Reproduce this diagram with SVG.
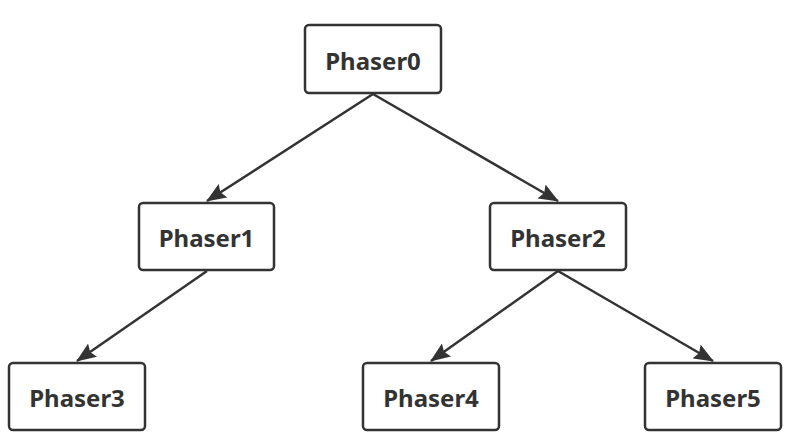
<svg xmlns="http://www.w3.org/2000/svg" width="794" height="448" viewBox="0 0 794 448">
<defs>
<style>
.node rect{fill:#fff;stroke:#333;stroke-width:2.5}
.node text{font-family:"Noto Sans","Open Sans","DejaVu Sans",sans-serif;font-weight:bold;font-size:24px;fill:#333;text-anchor:middle;dominant-baseline:central}
.edge{stroke:#333;stroke-width:2.5;fill:none;marker-end:url(#arr)}
</style>
<marker id="arr" viewBox="0 0 20 16" refX="19" refY="8" markerWidth="20" markerHeight="16" markerUnits="userSpaceOnUse" orient="auto">
<path d="M0,0 L20,8 L0,16 L3,8 Z" fill="#333"/>
</marker>
</defs>
<rect width="794" height="448" fill="#fff"/>
<g id="connectors">
<line class="edge" x1="373" y1="94" x2="207" y2="201"/>
<line class="edge" x1="373" y1="94" x2="558" y2="201"/>
<line class="edge" x1="207" y1="271" x2="77" y2="361"/>
<line class="edge" x1="558" y1="271" x2="431" y2="361"/>
<line class="edge" x1="558" y1="271" x2="713" y2="361"/>
</g>
<g id="phaser0" class="node"><rect x="305" y="25" width="136" height="68" rx="4"/><text x="373" y="60">Phaser0</text></g>
<g id="phaser1" class="node"><rect x="139" y="203" width="135" height="67" rx="4"/><text x="206.5" y="237.5">Phaser1</text></g>
<g id="phaser2" class="node"><rect x="490" y="203" width="136" height="67" rx="4"/><text x="558" y="237.5">Phaser2</text></g>
<g id="phaser3" class="node"><rect x="9" y="363" width="136" height="67" rx="4"/><text x="77" y="397.5">Phaser3</text></g>
<g id="phaser4" class="node"><rect x="363" y="363" width="136" height="67" rx="4"/><text x="431" y="397.5">Phaser4</text></g>
<g id="phaser5" class="node"><rect x="645" y="363" width="136" height="67" rx="4"/><text x="713" y="397.5">Phaser5</text></g>
</svg>
